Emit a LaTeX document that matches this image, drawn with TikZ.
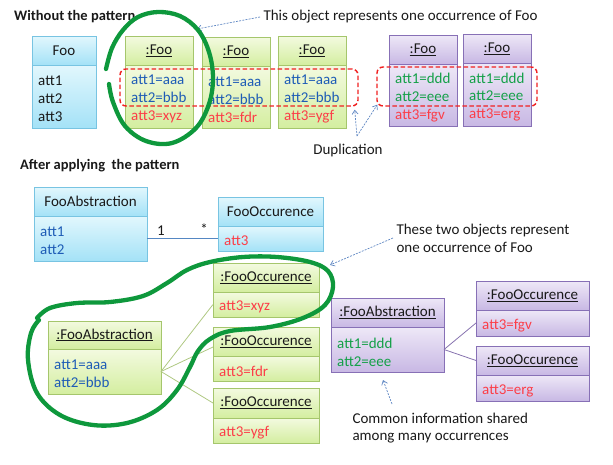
\documentclass[tikz,border=0pt]{standalone}
\usepackage{fontspec}
\setmainfont{Carlito}
\usetikzlibrary{shadows,arrows.meta,calc}
\definecolor{blueTop}{RGB}{226,247,253}
\definecolor{blueBot}{RGB}{164,226,247}
\definecolor{blueLine}{RGB}{120,196,226}
\definecolor{greenTop}{RGB}{243,250,224}
\definecolor{greenBot}{RGB}{212,238,160}
\definecolor{greenLine}{RGB}{165,198,108}
\definecolor{purpTop}{RGB}{238,232,247}
\definecolor{purpBot}{RGB}{200,184,228}
\definecolor{purpLine}{RGB}{135,112,182}
\definecolor{txtDark}{RGB}{25,25,25}
\definecolor{txtBlue}{RGB}{30,92,182}
\definecolor{txtRed}{RGB}{252,62,72}
\definecolor{txtGreen}{RGB}{20,160,72}
\definecolor{loopGreen}{RGB}{14,152,60}
\definecolor{dupRed}{RGB}{240,32,32}
\definecolor{noteBlue}{RGB}{95,135,195}
\definecolor{assocBlue}{RGB}{85,135,195}
\definecolor{glinkCol}{RGB}{175,200,130}
\definecolor{plinkCol}{RGB}{135,115,175}
% name, x, y, width, header h, body h, style, title, body
\newcommand{\umlobj}[9]{%
  \node[#7, minimum width=#4pt, minimum height=#5pt, anchor=north west] (#1h) at (#2,#3) {#8};
  \node[#7, minimum width=#4pt, minimum height=#6pt, anchor=north] (#1b) at (#1h.south) {};
  \node[bodytext] (#1t) at ([xshift=6pt,yshift=-2.5pt]#1b.west) {#9};
}
\newcommand{\cb}[1]{{\color{txtBlue}#1}}
\newcommand{\cred}[1]{{\color{txtRed}#1}}
\newcommand{\cg}[1]{{\color{txtGreen}#1}}
\begin{document}
\begin{tikzpicture}[x=1pt,y=-1pt,
  every node/.style={font=\fontsize{15}{17.8}\selectfont, text=txtDark},
  part/.style={draw, line width=0.8pt, outer sep=0pt, inner sep=0pt,
    drop shadow={shadow xshift=1.4pt,shadow yshift=-1.4pt,opacity=0.22}},
  bluepart/.style={part, draw=blueLine, top color=blueTop, bottom color=blueBot},
  greenpart/.style={part, draw=greenLine, top color=greenTop, bottom color=greenBot},
  purppart/.style={part, draw=purpLine, top color=purpTop, bottom color=purpBot},
  bodytext/.style={anchor=west, align=left, inner sep=0pt},
  heading/.style={font=\fontsize{14.5}{17.5}\selectfont\bfseries, anchor=west, inner sep=0pt},
  dupbox/.style={draw=dupRed, dash pattern=on 4.5pt off 2.5pt, line width=1.4pt, rounded corners=6pt},
  note/.style={draw=noteBlue, dash pattern=on 2pt off 1.2pt, line width=0.7pt, -{Straight Barb[length=4pt,width=6pt]}},
  loopline/.style={draw=loopGreen, line width=4.3pt, line cap=round, line join=round},
  glink/.style={draw=glinkCol, line width=0.8pt},
  plink/.style={draw=plinkCol, line width=0.8pt},
  assoc/.style={draw=assocBlue, line width=0.8pt}]
\useasboundingbox (0,0) rectangle (613,464);

% headings
\node[heading] (h1) at (14,17) {Without the pattern};
\node[heading] (h2) at (20,166) {After applying\ \ the pattern};

% top row
\umlobj{foo}{32}{36}{64}{29}{63}{bluepart}{Foo}{att1\\att2\\att3}
\umlobj{gf1}{125}{36}{68}{29}{63}{greenpart}{\underline{:Foo}}{\cb{att1=aaa}\\\cb{att2=bbb}\\\cred{att3=xyz}}
\umlobj{gf2}{202}{37}{68}{29}{62}{greenpart}{\underline{:Foo}}{\cb{att1=aaa}\\\cb{att2=bbb}\\\cred{att3=fdr}}
\umlobj{gf3}{278}{36}{68}{29}{63}{greenpart}{\underline{:Foo}}{\cb{att1=aaa}\\\cb{att2=bbb}\\\cred{att3=ygf}}
\umlobj{pf1}{389}{35}{68}{29}{62}{purppart}{\underline{:Foo}}{\cg{att1=ddd}\\\cg{att2=eee}\\\cred{att3=fgv}}
\umlobj{pf2}{463}{34}{68}{29}{63}{purppart}{\underline{:Foo}}{\cg{att1=ddd}\\\cg{att2=eee}\\\cred{att3=erg}}

\node[dupbox, minimum width=238pt, minimum height=37pt] (dup1) at (239,87.5) {};
\node[dupbox, minimum width=160pt, minimum height=39pt] (dup2) at (457,86.5) {};

% notes top
\node[anchor=west] (n1) at (260,17) {This object represents one occurrence of Foo};
\coordinate (n1tip) at (197,29);
\draw[note] (n1.west) -- (n1tip);
\node (dupl) at (348,150) {Duplication};
\coordinate (dsrc) at (357,136);
\draw[note] (dsrc) -- ($(dup1.south east)+(-4,3)$);
\draw[note] (dsrc) -- ($(dup2.south west)+(1,-2)$);

% bottom: classes
\umlobj{fa}{34}{187}{113}{29}{45}{bluepart}{FooAbstraction}{\cb{att1}\\\cb{att2}}
\umlobj{fo}{218}{197}{105}{29}{25}{bluepart}{FooOccurence}{\cred{att3}}
\draw[assoc] (fab.east) -- (fob.west);
\node (m1) at (161,231) {1};
\node (m2) at (204,229) {*};

% green objects
\umlobj{go1}{213}{263}{106}{29}{25}{greenpart}{\underline{:FooOccurence}}{\cred{att3=xyz}}
\umlobj{ga}{48}{321}{113}{28}{45}{greenpart}{\underline{:FooAbstraction}}{\cb{att1=aaa}\\\cb{att2=bbb}}
\umlobj{go2}{213}{327}{106}{29}{25}{greenpart}{\underline{:FooOccurence}}{\cred{att3=fdr}}
\umlobj{go3}{213}{388}{106}{30}{25}{greenpart}{\underline{:FooOccurence}}{\cred{att3=ygf}}
\draw[glink] (gab.east) -- (go1b.west);
\draw[glink] (gab.east) -- ($(go2h.south west)+(0,-9)$);
\draw[glink] (gab.east) -- (go3h.west);

% purple objects
\umlobj{pa}{331}{298}{113}{29}{45}{purppart}{\underline{:FooAbstraction}}{\cg{att1=ddd}\\\cg{att2=eee}}
\umlobj{po1}{476}{281}{113}{29}{26}{purppart}{\underline{:FooOccurence}}{\cred{att3=fgv}}
\umlobj{po2}{476}{346}{113}{29}{26}{purppart}{\underline{:FooOccurence}}{\cred{att3=erg}}
\draw[plink] (pab.east) -- (po1b.west);
\draw[plink] (pab.east) -- (po2h.west);

% notes bottom
\node[anchor=west, align=left] (n2) at (393,238) {These two objects represent\\one occurrence of Foo};
\coordinate (n2tip) at (330,265);
\draw[note] (n2.west) -- (n2tip);
\node[anchor=west, align=left] (n3) at (349,428) {Common information shared\\among many occurrences};
\coordinate (n3src) at (392,404);
\coordinate (n3tip) at (383,380);
\draw[note] (n3src) -- (n3tip);

% hand-drawn loops
\draw[loopline] plot[smooth, tension=0.6] coordinates {(106,69) (112,48) (123,30) (138,17) (158,12) (180,16) (198,30) (209,52) (213,78) (209,104) (196,128) (172,143) (146,141) (125,126) (113,102) (109,84)};
\draw[loopline] plot[smooth, tension=0.6] coordinates {(37,318) (50,308) (77,303) (110,302) (143,296) (167,283) (187,270) (210,262) (243,257) (277,257) (310,262) (328,271) (333,287) (325,305) (303,318) (270,327) (230,331) (210,339) (198,351) (190,367) (177,390) (157,410) (127,423) (93,425) (60,415) (37,393) (28,360) (31,333) (39,320)};
\end{tikzpicture}
\end{document}
